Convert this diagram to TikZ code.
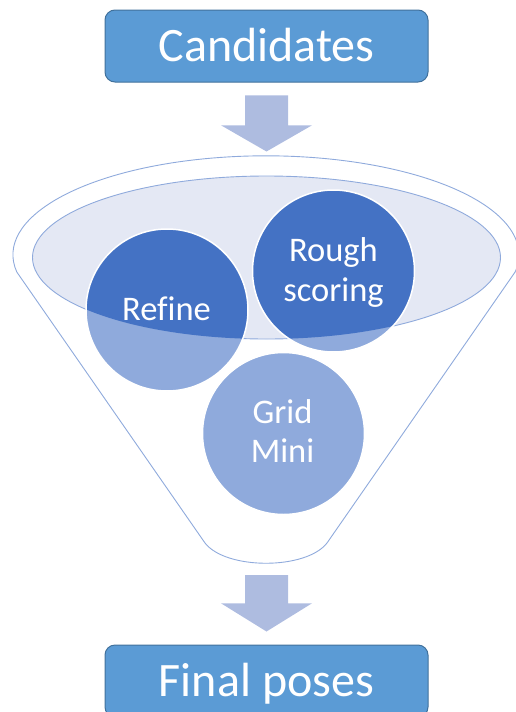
\documentclass[tikz,border=0pt]{standalone}
\usepackage{fontspec}
\setmainfont[Ligatures=NoCommon]{Carlito}

\definecolor{boxblue}{HTML}{5B9BD5}
\definecolor{boxedge}{HTML}{41719C}
\definecolor{arrowfill}{RGB}{174,188,224}
\definecolor{rimblue}{HTML}{8FAADC}
\definecolor{rimfill}{RGB}{228,232,244}
\definecolor{balldark}{HTML}{4472C4}
\definecolor{balllight}{HTML}{8FAADC}

\begin{document}
\begin{tikzpicture}[x=1pt,y=-1pt,
  stagebox/.style={rectangle, rounded corners=10pt, fill=boxblue, draw=boxedge,
    line width=1pt, minimum width=323pt, minimum height=72pt, inner sep=0pt,
    text=white, font=\fontsize{48}{58}\selectfont, text height=31pt, text depth=0pt},
  ballring/.style={circle, draw=white, line width=1.5pt, minimum size=162pt, inner sep=0pt},
  balltext/.style={text=white, font=\fontsize{34.5}{40}\selectfont, inner sep=0pt, anchor=base},
  flowarrow/.style={fill=arrowfill},
  rimline/.style={draw=rimblue, line width=0.9pt}]

\useasboundingbox (0,0) rectangle (516,712);

% input and output boxes
\node[stagebox] (cand) at (266.5,46) {Candidates};
\node[stagebox] (final) at (266.5,681) {Final poses};

% block arrows into and out of the funnel
\fill[flowarrow] (245,95.3) -- (288,95.3) -- (288,125.3) -- (312,125.3)
  -- (266.5,151.5) -- (221,125.3) -- (245,125.3) -- cycle;
\fill[flowarrow] (245,575) -- (288,575) -- (288,603.3) -- (312,603.3)
  -- (266.5,631.5) -- (221,603.3) -- (245,603.3) -- cycle;

% funnel body: upper rim, tapering sides, rounded spout
\draw[rimline] (16.8,272) arc[start angle=170, end angle=370, x radius=253, y radius=99]
  -- (327,543) .. controls (306,570) and (226,570) .. (205,543) -- cycle;

% inner mouth of the funnel
\filldraw[rimline, fill=rimfill] (266.5,257.5) ellipse [x radius=234, y radius=81.5];

% stage discs
\coordinate (cRef) at (167,310);
\coordinate (cRough) at (333.5,271);
\coordinate (cGrid) at (283.5,433.5);

\foreach \c in {cRef,cRough,cGrid}
  \fill[balllight] (\c) circle [radius=81];
\begin{scope}
  \clip (266.5,257.5) ellipse [x radius=234, y radius=81.5];
  \foreach \c in {cRef,cRough,cGrid}
    \fill[balldark] (\c) circle [radius=81];
\end{scope}

\node[ballring] (refine) at (cRef) {};
\node[ballring] (rough) at (cRough) {};
\node[ballring] (grid) at (cGrid) {};

% disc labels
\node[balltext] (refineT) at (166.5,320) {Refine};
\node[balltext] (roughT1) at (333.5,261.7) {Rough};
\node[balltext] (roughT2) at (333.5,301.7) {scoring};
\node[balltext] (gridT1) at (282.5,423.3) {Grid};
\node[balltext] (gridT2) at (282.5,462.7) {Mini};

\end{tikzpicture}
\end{document}
